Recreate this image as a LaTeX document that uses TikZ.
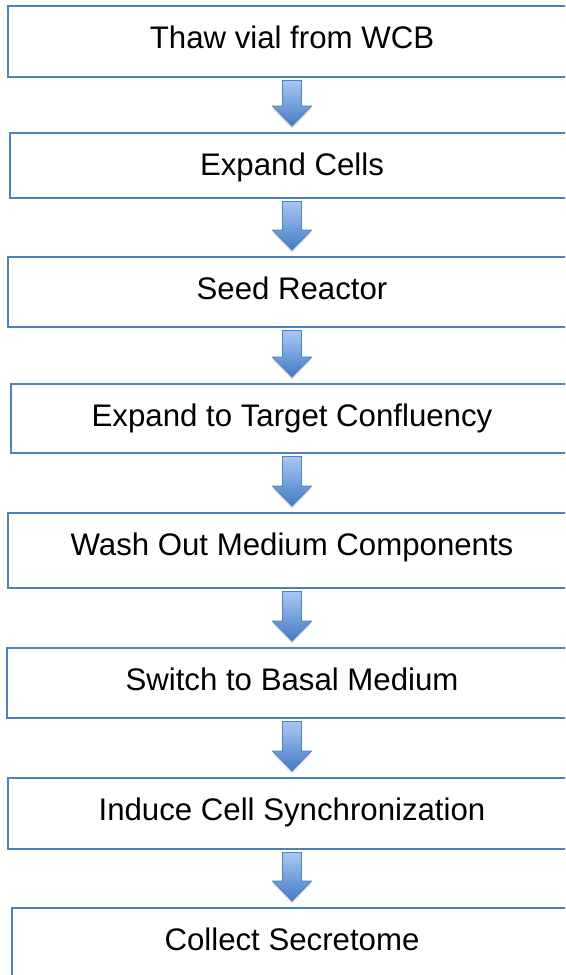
\documentclass[tikz,border=0pt]{standalone}
\usepackage{fontspec}
\setmainfont{Liberation Sans}
\usepackage{tikz}
\usetikzlibrary{calc,shadows}

\newdimen\pxu
\pxu=0.75pt

\definecolor{boxblue}{HTML}{4F81BD}
\definecolor{arrowtop}{HTML}{A8C8F4}
\definecolor{arrowbot}{HTML}{447AC4}

\tikzset{
  stepbox/.style 2 args={draw=boxblue, line width=1.5pt, fill=white,
    anchor=north west, outer sep=0pt, inner ysep=0pt, inner xsep=0pt,
    minimum width=#1\pxu, text height=42\pxu, text depth=#2\pxu,
    font=\fontsize{23.4}{28}\selectfont},
  blockarrow/.style={draw=boxblue, line width=0.6pt, line join=miter,
    top color=arrowtop, bottom color=arrowbot,
    drop shadow={shadow xshift=0pt, shadow yshift=-2pt, opacity=0.25}}
}

% block arrow from the bottom of one step to the top of the next
\newcommand{\flowarrow}[2]{%
  \draw[blockarrow] ($(#1.south)+(-9.5,3.5)$) -- ($(#1.south)+(9.5,3.5)$)
    -- ($(#2.north)+(9.5,-27)$) -- ($(#2.north)+(19.5,-27)$)
    -- ($(#2.north)+(0,-7)$) -- ($(#2.north)+(-19.5,-27)$)
    -- ($(#2.north)+(-9.5,-27)$) -- cycle;}

\begin{document}
\begin{tikzpicture}[x=0.75pt,y=-0.75pt]
  \useasboundingbox (0,0) rectangle (565,975);
  \clip (0,0) rectangle (565,975);
  \fill[white] (0,0) rectangle (565,975);

  % process steps
  \node[stepbox={568}{29}] (thaw)    at (8,6)     {Thaw vial from WCB};
  \node[stepbox={565}{23}] (expand)  at (9.5,133) {Expand Cells};
  \node[stepbox={568}{28}] (seed)    at (8,257)   {Seed Reactor};
  \node[stepbox={562}{27}] (conflu)  at (11,384)  {Expand to Target Confluency};
  \node[stepbox={568}{33}] (wash)    at (8,513)   {Wash Out Medium Components};
  \node[stepbox={570}{28}] (basal)   at (7,648)   {Switch to Basal Medium};
  \node[stepbox={568}{29}] (sync)    at (8,778)   {Induce Cell Synchronization};
  \node[stepbox={560}{30}] (collect) at (12,908)  {Collect Secretome};

  \flowarrow{thaw}{expand}
  \flowarrow{expand}{seed}
  \flowarrow{seed}{conflu}
  \flowarrow{conflu}{wash}
  \flowarrow{wash}{basal}
  \flowarrow{basal}{sync}
  \flowarrow{sync}{collect}
\end{tikzpicture}
\end{document}
